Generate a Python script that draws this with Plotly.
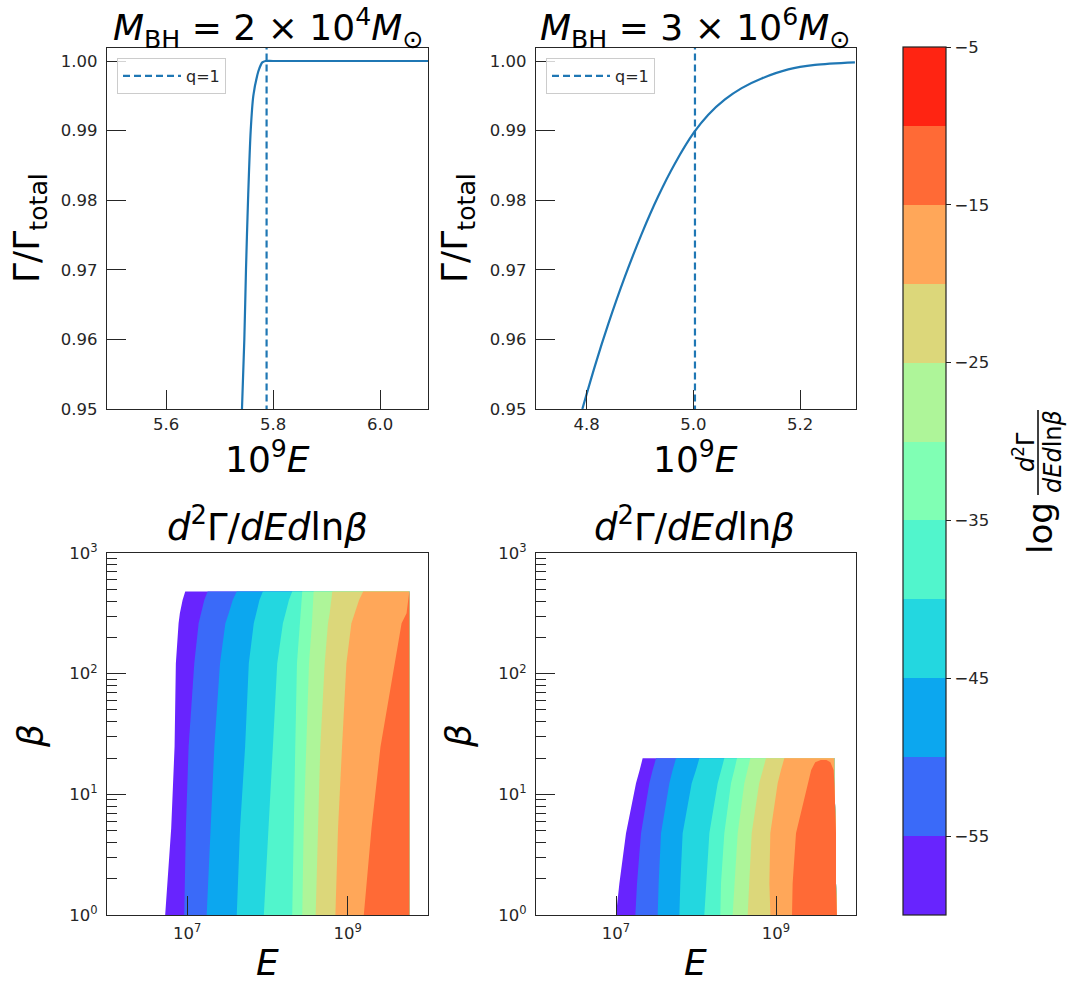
import plotly.graph_objects as go

W, H = 1075, 993
FONT = "DejaVu Sans"
C0 = "#1f77b4"

# ---------------- data: top panels (Gamma/Gamma_total vs 10^9 E) ----------------
TL_X = [5.742, 5.7464, 5.7495, 5.7533, 5.7583, 5.7632, 5.7707, 5.7745, 5.780, 5.786, 5.800, 6.10]
TL_Y = [0.950, 0.960, 0.970, 0.980, 0.990, 0.995, 0.998, 0.99895, 0.9998, 1.0, 1.0, 1.0]
TL_Q1 = 5.788

TR_X = [4.7918, 4.8156, 4.8405, 4.8718, 4.9031, 4.9343, 4.9655, 5.0011, 5.028, 5.0593,
        5.0906, 5.128, 5.178, 5.228, 5.303]
TR_Y = [0.950, 0.95624, 0.96222, 0.96904, 0.97517, 0.98060, 0.98528, 0.98973, 0.99229,
        0.99448, 0.99611, 0.99749, 0.99879, 0.99944, 0.99981]
TR_Q1 = 5.003

TITLES_TOP = ["<i>M</i><sub>BH</sub> = 2 × 10<sup>4</sup><i>M</i><sub>⊙</sub>",
              "<i>M</i><sub>BH</sub> = 3 × 10<sup>6</sup><i>M</i><sub>⊙</sub>"]

# ---------------- data: bottom panels (contour band edges, log10 E at log10 beta rows) --
LEVELS = [-60, -55, -50, -45, -40, -35, -30, -25, -20, -15, -10, -5]
BAND_COLORS = ["#6824fe", "#3a6af9", "#0ca7ef", "#23d7e0", "#51f5cc", "#80ffb4",
               "#aef599", "#dcd77a", "#ffa759", "#ff6a36", "#ff2412"]

BL_LOGBETA = [0.0, 0.718, 1.394, 2.085, 2.417, 2.5, 2.61, 2.68]
BL_EDGES = [
    [6.725, 6.800, 6.842, 6.858, 6.892, 6.908, 6.942, 6.975],
    [6.9625, 6.983, 7.017, 7.0875, 7.142, 7.171, 7.2125, 7.254],
    [7.242, 7.296, 7.3375, 7.408, 7.475, 7.517, 7.567, 7.617],
    [7.617, 7.658, 7.721, 7.767, 7.829, 7.858, 7.900, 7.942],
    [7.954, 8.017, 8.067, 8.121, 8.192, 8.225, 8.267, 8.308],
    [8.308, 8.325, 8.346, 8.367, 8.400, 8.4125, 8.421, 8.433],
    [8.433, 8.450, 8.483, 8.517, 8.554, 8.558, 8.567, 8.575],
    [8.600, 8.629, 8.658, 8.7125, 8.754, 8.775, 8.796, 8.808],
    [8.846, 8.879, 8.929, 8.983, 9.046, 9.0875, 9.141, 9.192],
    [9.200, 9.296, 9.408, 9.5875, 9.671, 9.733, 9.758, 9.767],
]
BL_RIGHT = [9.767, 9.767, 9.767, 9.767, 9.767, 9.767, 9.767, 9.767]

BR_LOGBETA = [0.0, 0.262, 0.677, 1.091, 1.201, 1.298]
BR_EDGES = [
    [7.000, 7.042, 7.125, 7.250, 7.296, 7.333],
    [7.242, 7.2625, 7.3125, 7.417, 7.458, 7.500],
    [7.521, 7.533, 7.5625, 7.667, 7.708, 7.750],
    [7.792, 7.804, 7.833, 7.946, 8.000, 8.042],
    [8.104, 8.125, 8.167, 8.271, 8.3125, 8.354],
    [8.304, 8.3125, 8.354, 8.4375, 8.479, 8.5125],
    [8.458, 8.479, 8.521, 8.604, 8.646, 8.679],
    [8.646, 8.667, 8.696, 8.790, 8.833, 8.875],
    [8.930, 8.917, 8.929, 9.021, 9.0625, 9.104],
]
BR_RIGHT = [9.7625, 9.75, 9.75, 9.729, 9.729, 9.729]
# red dome (-15 .. -10) in the right panel
BR_DOME_LOGBETA = [0.0, 0.262, 0.677, 1.091, 1.201, 1.265, 1.285]
BR_DOME_LEFT = [9.20, 9.208, 9.25, 9.396, 9.44, 9.49, 9.56]
BR_DOME_RIGHT = [9.76, 9.75, 9.75, 9.73, 9.72, 9.68, 9.63]

CB_TICKS = [-55, -45, -35, -25, -15, -5]


# ---------------- helpers ----------------
def fx(px):
    return px / W


def fy(py):
    return 1 - py / H


fig = go.Figure()


def add_region(left, right, logbeta, color, xa, ya):
    xs = [10 ** v for v in left] + [10 ** v for v in reversed(right)]
    ys = [10 ** v for v in logbeta] + [10 ** v for v in reversed(logbeta)]
    fig.add_trace(go.Scatter(x=xs, y=ys, mode="lines", fill="toself", fillcolor=color,
                             line=dict(width=0, color=color), showlegend=False,
                             hoverinfo="skip", xaxis=xa, yaxis=ya))


DASH = "7px,4px"
# top-left
fig.add_trace(go.Scatter(x=TL_X, y=TL_Y, mode="lines",
                         line=dict(color=C0, width=2.2, shape="spline", smoothing=0.8),
                         showlegend=False, xaxis="x", yaxis="y"))
fig.add_trace(go.Scatter(x=[TL_Q1, TL_Q1], y=[0.94, 1.01], mode="lines", name="q=1",
                         line=dict(color=C0, width=2.2, dash=DASH),
                         xaxis="x", yaxis="y", legend="legend"))
# top-right
fig.add_trace(go.Scatter(x=TR_X, y=TR_Y, mode="lines",
                         line=dict(color=C0, width=2.2, shape="spline", smoothing=0.8),
                         showlegend=False, xaxis="x2", yaxis="y2"))
fig.add_trace(go.Scatter(x=[TR_Q1, TR_Q1], y=[0.94, 1.01], mode="lines", name="q=1",
                         line=dict(color=C0, width=2.2, dash=DASH),
                         xaxis="x2", yaxis="y2", legend="legend2"))

# bottom-left bands (superlevel regions drawn in order)
for k, edge in enumerate(BL_EDGES):
    add_region(edge, BL_RIGHT, BL_LOGBETA, BAND_COLORS[k], "x3", "y3")
# bottom-right bands
for k, edge in enumerate(BR_EDGES):
    add_region(edge, BR_RIGHT, BR_LOGBETA, BAND_COLORS[k], "x4", "y4")
add_region(BR_DOME_LEFT, BR_DOME_RIGHT, BR_DOME_LOGBETA, BAND_COLORS[9], "x4", "y4")

# colorbar carrier
nb = len(LEVELS) - 1
cscale = []
for k in range(nb):
    cscale.append([k / nb, BAND_COLORS[k]])
    cscale.append([(k + 1) / nb, BAND_COLORS[k]])
TICKF = dict(family=FONT, size=16.5, color="#262626")
fig.add_trace(go.Scatter(
    x=[1e8, 1e8], y=[10, 10], mode="markers", showlegend=False, hoverinfo="skip",
    xaxis="x3", yaxis="y3",
    marker=dict(size=1, opacity=0, color=[LEVELS[0], LEVELS[-1]], colorscale=cscale,
                cmin=LEVELS[0], cmax=LEVELS[-1], showscale=True,
                colorbar=dict(x=fx(903), xanchor="left", xpad=0, y=fy(481), yanchor="middle",
                              ypad=0, len=(915 - 47) / H, lenmode="fraction", thickness=43,
                              thicknessmode="pixels", outlinewidth=1.2, outlinecolor="#222",
                              ticks="outside", ticklen=5, tickwidth=1.2, tickcolor="#222",
                              tickvals=CB_TICKS, ticktext=["−" + str(abs(t)) for t in CB_TICKS],
                              tickfont=TICKF))))

# ---------------- axes ----------------
LC = "#262626"
base = dict(showline=True, mirror=True, linecolor=LC, linewidth=1.3, ticks="inside",
            ticklen=19, tickwidth=1.3, tickcolor=LC, showgrid=False, zeroline=False,
            tickfont=TICKF, fixedrange=True)

TOP_Y = [fy(409), fy(48)]
BOT_Y = [fy(915), fy(553)]
LEFT_X = [fx(107), fx(428)]
RIGHT_X = [fx(536), fx(856)]

ytop_vals = [0.95, 0.96, 0.97, 0.98, 0.99, 1.00]
ytop = dict(base, range=[0.95, 1.00187], tickvals=ytop_vals,
            ticktext=["%.2f" % v for v in ytop_vals], ticklabelstandoff=5)
ylog_minor = [m * 10 ** d for d in range(3) for m in range(2, 10)]
ylog = dict(base, type="log", range=[0, 3], tickvals=[1, 10, 100, 1000],
            ticktext=["10<sup>0</sup>", "10<sup>1</sup>", "10<sup>2</sup>", "10<sup>3</sup>"],
            ticklabelstandoff=5,
            minor=dict(ticks="inside", ticklen=10, tickwidth=1.2, tickcolor=LC,
                       tickvals=ylog_minor, showgrid=False))
xlog = dict(base, type="log", range=[6, 10], tickvals=[1e7, 1e9],
            ticktext=["10<sup>7</sup>", "10<sup>9</sup>"], ticklabelstandoff=3)

LEG = dict(xanchor="left", yanchor="top", bordercolor="#cccccc", borderwidth=1,
           bgcolor="rgba(255,255,255,0.8)", font=dict(family=FONT, size=16, color="#262626"),
           itemwidth=58, tracegroupgap=0)

fig.update_layout(
    width=W, height=H, margin=dict(l=0, r=0, t=0, b=0, autoexpand=False),
    paper_bgcolor="white", plot_bgcolor="white",
    font=dict(family=FONT, color="#000"),
    xaxis=dict(base, domain=LEFT_X, anchor="y", range=[5.4897, 6.0897],
               tickvals=[5.6, 5.8, 6.0], ticktext=["5.6", "5.8", "6.0"], ticklabelstandoff=0),
    yaxis=dict(ytop, domain=TOP_Y, anchor="x"),
    xaxis2=dict(base, domain=RIGHT_X, anchor="y2", range=[4.7049, 5.305],
                tickvals=[4.8, 5.0, 5.2], ticktext=["4.8", "5.0", "5.2"], ticklabelstandoff=0),
    yaxis2=dict(ytop, domain=TOP_Y, anchor="x2"),
    xaxis3=dict(xlog, domain=LEFT_X, anchor="y3"),
    yaxis3=dict(ylog, domain=BOT_Y, anchor="x3"),
    xaxis4=dict(xlog, domain=RIGHT_X, anchor="y4"),
    yaxis4=dict(ylog, domain=BOT_Y, anchor="x4"),
    legend=dict(LEG, x=fx(117), y=fy(58)),
    legend2=dict(LEG, x=fx(546), y=fy(58)),
)

ann = []


def text(px, py, s, size, angle=0, yanchor="middle"):
    ann.append(dict(x=fx(px), y=fy(py), xref="paper", yref="paper", text=s, showarrow=False,
                    xanchor="center", yanchor=yanchor, textangle=angle,
                    font=dict(family=FONT, size=size, color="#000")))


# titles
text(267.5, 0, TITLES_TOP[0], 36, yanchor="top")
text(695, 0, TITLES_TOP[1], 36, yanchor="top")
text(267, 524, "<i>d</i><sup>2</sup>Γ/<i>dEd</i>ln<i>β</i>", 37)
text(694, 524, "<i>d</i><sup>2</sup>Γ/<i>dEd</i>ln<i>β</i>", 37)
# axis labels
for cx in (267.5, 695):
    text(cx, 457, "10<sup>9</sup><i>E</i>", 36)
    text(cx, 962, "<i>E</i>", 36)
for cx in (30, 458):
    text(cx, 228, "Γ/Γ<sub>total</sub>", 36, -90)
    text(cx, 736, "<i>β</i>", 36, -90)
# colorbar label
text(1040, 528, "log", 34, -90)
text(1024, 452, "<i>d</i><sup>2</sup>Γ", 24, -90)
text(1053, 452, "<i>dEd</i>ln<i>β</i>", 24, -90)

fig.update_layout(annotations=ann,
                  shapes=[dict(type="line", xref="paper", yref="paper", x0=fx(1038), x1=fx(1038),
                               y0=fy(410), y1=fy(495), line=dict(color="#000", width=1.5))])

fig.write_html("out.html", config={"displayModeBar": False},
               post_script="document.body.style.margin='0px';document.body.style.overflow='hidden';")
